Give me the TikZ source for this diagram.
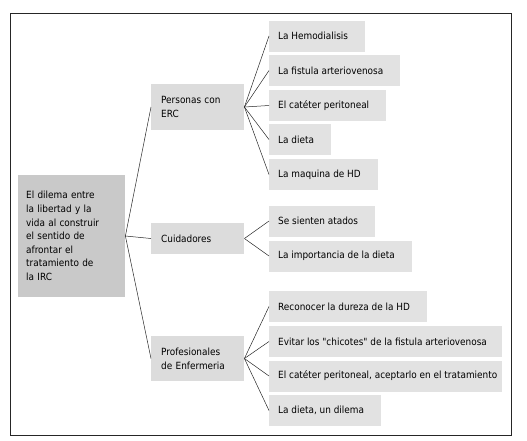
\documentclass[tikz,border=0pt]{standalone}
\usepackage{fontspec}
\setmainfont{DejaVu Sans Condensed}
\usetikzlibrary{positioning}
\definecolor{rootgray}{HTML}{C9C9C9}
\definecolor{midgray}{HTML}{DCDCDC}
\definecolor{leafgray}{HTML}{E2E2E2}
\begin{document}
\begin{tikzpicture}[
      x=1pt, y=-1pt,
      font=\fontsize{9.9}{13.6}\selectfont,
      root/.style={fill=rootgray, anchor=west, align=left, text width=91pt, inner xsep=8pt, minimum height=122pt},
      group/.style={fill=midgray, anchor=west, align=left, text width=73pt, inner xsep=10pt, inner ysep=3pt},
      leaf/.style={fill=leafgray, anchor=west, inner xsep=9pt, minimum height=31pt},
      padleaf/.style={leaf, execute at end node={\hspace{8pt}}},
      wideleaf/.style={leaf, minimum width=233pt},
      link/.style={line width=0.5pt, black!85}
    ]
    \useasboundingbox (0,0) rectangle (527,440);
    \draw[line width=0.8pt, black!85] (10,13) rectangle (511,435);

    \node[root] (dilema) at (18,236) {El dilema entre\\la libertad y la\\vida al construir\\el sentido de\\afrontar el\\tratamiento de\\la IRC};

    \node[group, minimum height=46pt] (personas) at (151,107) {Personas con\\ERC};
    \node[group, minimum height=31pt] (cuidadores) at (151,238.5) {Cuidadores};
    \node[group, minimum height=45pt] (enfermeria) at (151,358.5) {Profesionales\\de Enfermeria};

    % personas con ERC
    \node[padleaf] (hemo) at (269,36) {La Hemodialisis};
    \node[padleaf] (fistula) at (269,70.5) {La fistula arteriovenosa};
    \node[padleaf] (cateter) at (269,105.5) {El catéter peritoneal};
    \node[padleaf] (dieta) at (269,139.5) {La dieta};
    \node[padleaf] (maquina) at (269,174.5) {La maquina de HD};

    % cuidadores
    \node[padleaf] (atados) at (269,221) {Se sienten atados};
    \node[padleaf] (importancia) at (269,256) {La importancia de la dieta};

    % profesionales de enfermeria
    \node[padleaf] (dureza) at (269,306.5) {Reconocer la dureza de la HD};
    \node[wideleaf] (chicotes) at (269,341.5) {\makebox[215pt][l]{Evitar los \textquotedbl chicotes\textquotedbl{} de la fistula arteriovenosa}};
    \node[wideleaf] (aceptar) at (269,376) {\makebox[215pt][l]{El catéter peritoneal, aceptarlo en el tratamiento}};
    \node[padleaf] (dilemadieta) at (269,410.5) {La dieta, un dilema};

    \draw[link] (dilema.east) -- (personas.west);
    \draw[link] (dilema.east) -- (cuidadores.west);
    \draw[link] (dilema.east) -- (enfermeria.west);

    \foreach \x in {hemo,fistula,cateter,dieta,maquina}
      \draw[link] (personas.east) -- (\x.west);
    \foreach \x in {atados,importancia}
      \draw[link] (cuidadores.east) -- (\x.west);
    \foreach \x in {dureza,chicotes,aceptar,dilemadieta}
      \draw[link] (enfermeria.east) -- (\x.west);
  \end{tikzpicture}
\end{document}
